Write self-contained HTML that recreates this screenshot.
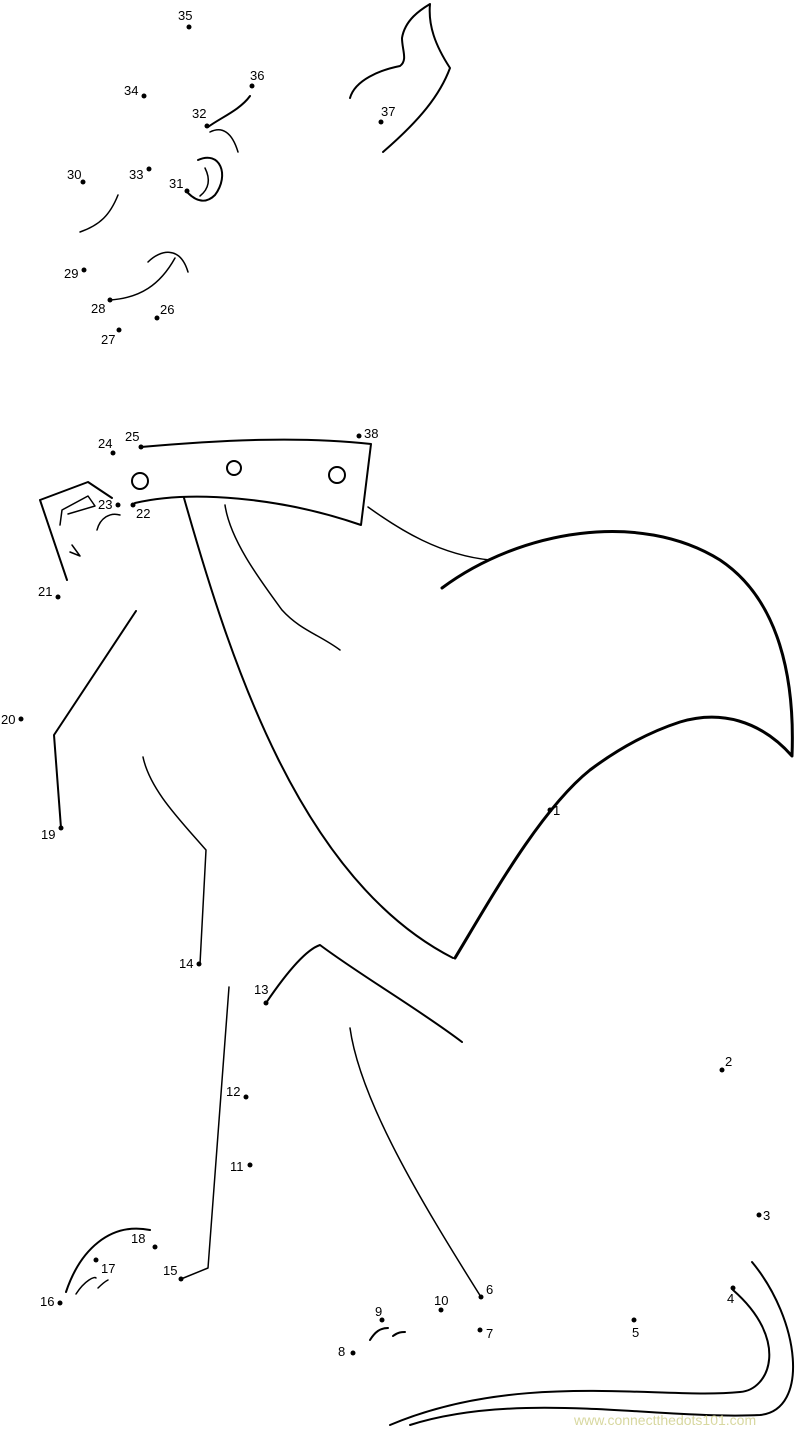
<!DOCTYPE html>
<html><head><meta charset="utf-8"><style>
html,body{margin:0;padding:0;background:#fff;}
svg{display:block;}
text{font-family:"Liberation Sans",sans-serif;font-size:13px;fill:#000;}
</style></head><body>
<svg width="800" height="1430" viewBox="0 0 800 1430" xmlns="http://www.w3.org/2000/svg">
<g fill="none" stroke="#000" stroke-linecap="round" stroke-linejoin="round">
<!-- top wisps -->
<path d="M350,98 C355,80 380,70 400,66 C408,60 402,50 402,38 C405,20 420,10 430,4 C428,25 435,45 450,68 C440,95 420,120 383,152" stroke-width="2"/>
<path d="M208,127 C220,118 240,110 250,96" stroke-width="2"/>
<path d="M210,132 C222,126 232,132 238,152" stroke-width="1.5"/>
<path d="M198,160 C220,150 230,175 215,195 C205,205 195,200 188,193" stroke-width="2"/>
<path d="M205,168 C210,178 210,188 200,196" stroke-width="1.5"/>
<path d="M118,195 C110,215 100,225 80,232" stroke-width="1.5"/>
<path d="M110,300 C140,298 160,285 175,258 M148,262 C160,250 180,245 188,272" stroke-width="1.5"/>
<!-- collar -->
<path d="M141,447 C220,440 300,436 371,444 L361,525 C280,497 190,490 135,503" stroke-width="2"/>
<circle cx="140" cy="481" r="8" stroke-width="2"/>
<circle cx="234" cy="468" r="7" stroke-width="2"/>
<circle cx="337" cy="475" r="8" stroke-width="2"/>
<!-- head/beak -->
<path d="M40,500 L88,482 L112,498 M40,500 L67,580" stroke-width="2"/>
<path d="M60,525 L62,510 L88,496 L95,506 L68,514" stroke-width="1.5"/>
<path d="M97,530 C100,518 110,512 120,515" stroke-width="1.5"/>
<path d="M72,545 L80,556 L70,552" stroke-width="1.5"/>
<!-- wing -->
<path d="M368,507 C400,530 440,555 490,560" stroke-width="1.5"/>
<path d="M442,588 C520,530 640,510 720,560 C780,600 795,680 792,756 C760,720 720,710 680,722 C640,735 610,755 590,770 C540,810 490,900 455,958" stroke-width="3"/>
<path d="M442,588 C520,530 640,510 720,560" stroke-width="1.5"/>
<!-- body -->
<path d="M184,498 C230,660 300,880 453,958" stroke-width="2"/>
<path d="M225,505 C230,540 260,580 282,610 C300,630 320,635 340,650" stroke-width="1.5"/>
<!-- left arm -->
<path d="M136,611 L54,735 L61,828" stroke-width="2"/>
<path d="M143,757 C150,790 180,820 206,850 L200,964" stroke-width="1.5"/>
<!-- leg -->
<path d="M229,987 L208,1268 L181,1279" stroke-width="1.5"/>
<path d="M266,1003 C285,975 305,950 320,945 C360,975 420,1010 462,1042" stroke-width="2"/>
<path d="M350,1028 C360,1100 420,1200 481,1297" stroke-width="1.5"/>
<!-- foot -->
<path d="M66,1292 C80,1250 110,1222 150,1230" stroke-width="2"/>
<path d="M76,1294 C85,1280 95,1276 96,1278 M98,1288 C104,1282 108,1280 108,1280" stroke-width="1.5"/>
<path d="M370,1340 C375,1332 380,1328 388,1328 M393,1336 C398,1332 402,1332 405,1332" stroke-width="2"/>
<!-- tail -->
<path d="M733,1290 C790,1340 770,1390 740,1392 C660,1400 520,1370 390,1425" stroke-width="2"/>
<path d="M752,1262 C800,1320 810,1410 760,1415 C660,1420 520,1390 410,1425" stroke-width="2"/>
</g>
<g fill="#000">
<circle cx="550" cy="810" r="2.5"/><circle cx="722" cy="1070" r="2.5"/><circle cx="759" cy="1215" r="2.5"/>
<circle cx="733" cy="1288" r="2.5"/><circle cx="634" cy="1320" r="2.5"/><circle cx="481" cy="1297" r="2.5"/>
<circle cx="480" cy="1330" r="2.5"/><circle cx="353" cy="1353" r="2.5"/><circle cx="382" cy="1320" r="2.5"/>
<circle cx="441" cy="1310" r="2.5"/><circle cx="250" cy="1165" r="2.5"/><circle cx="246" cy="1097" r="2.5"/>
<circle cx="266" cy="1003" r="2.5"/><circle cx="199" cy="964" r="2.5"/><circle cx="181" cy="1279" r="2.5"/>
<circle cx="60" cy="1303" r="2.5"/><circle cx="96" cy="1260" r="2.5"/><circle cx="155" cy="1247" r="2.5"/>
<circle cx="61" cy="828" r="2.5"/><circle cx="21" cy="719" r="2.5"/><circle cx="58" cy="597" r="2.5"/>
<circle cx="133" cy="505" r="2.5"/><circle cx="118" cy="505" r="2.5"/><circle cx="113" cy="453" r="2.5"/>
<circle cx="141" cy="447" r="2.5"/><circle cx="157" cy="318" r="2.5"/><circle cx="119" cy="330" r="2.5"/>
<circle cx="110" cy="300" r="2.5"/><circle cx="84" cy="270" r="2.5"/><circle cx="83" cy="182" r="2.5"/>
<circle cx="187" cy="191" r="2.5"/><circle cx="207" cy="126" r="2.5"/><circle cx="149" cy="169" r="2.5"/>
<circle cx="144" cy="96" r="2.5"/><circle cx="189" cy="27" r="2.5"/><circle cx="252" cy="86" r="2.5"/>
<circle cx="381" cy="122" r="2.5"/><circle cx="359" cy="436" r="2.5"/>
</g>
<text x="553" y="815">1</text><text x="725" y="1066">2</text><text x="763" y="1220">3</text>
<text x="727" y="1303">4</text><text x="632" y="1337">5</text><text x="486" y="1294">6</text>
<text x="486" y="1338">7</text><text x="338" y="1356">8</text><text x="375" y="1316">9</text>
<text x="434" y="1305">10</text><text x="230" y="1171">11</text><text x="226" y="1096">12</text>
<text x="254" y="994">13</text><text x="179" y="968">14</text><text x="163" y="1275">15</text>
<text x="40" y="1306">16</text><text x="101" y="1273">17</text><text x="131" y="1243">18</text>
<text x="41" y="839">19</text><text x="1" y="724">20</text><text x="38" y="596">21</text>
<text x="136" y="518">22</text><text x="98" y="509">23</text><text x="98" y="448">24</text>
<text x="125" y="441">25</text><text x="160" y="314">26</text><text x="101" y="344">27</text>
<text x="91" y="313">28</text><text x="64" y="278">29</text><text x="67" y="179">30</text>
<text x="169" y="188">31</text><text x="192" y="118">32</text><text x="129" y="179">33</text>
<text x="124" y="95">34</text><text x="178" y="20">35</text><text x="250" y="80">36</text>
<text x="381" y="116">37</text><text x="364" y="438">38</text>
<text x="574" y="1425" style="font-size:14px;fill:#d8d8a0">www.connectthedots101.com</text>
</svg>
</body></html>
